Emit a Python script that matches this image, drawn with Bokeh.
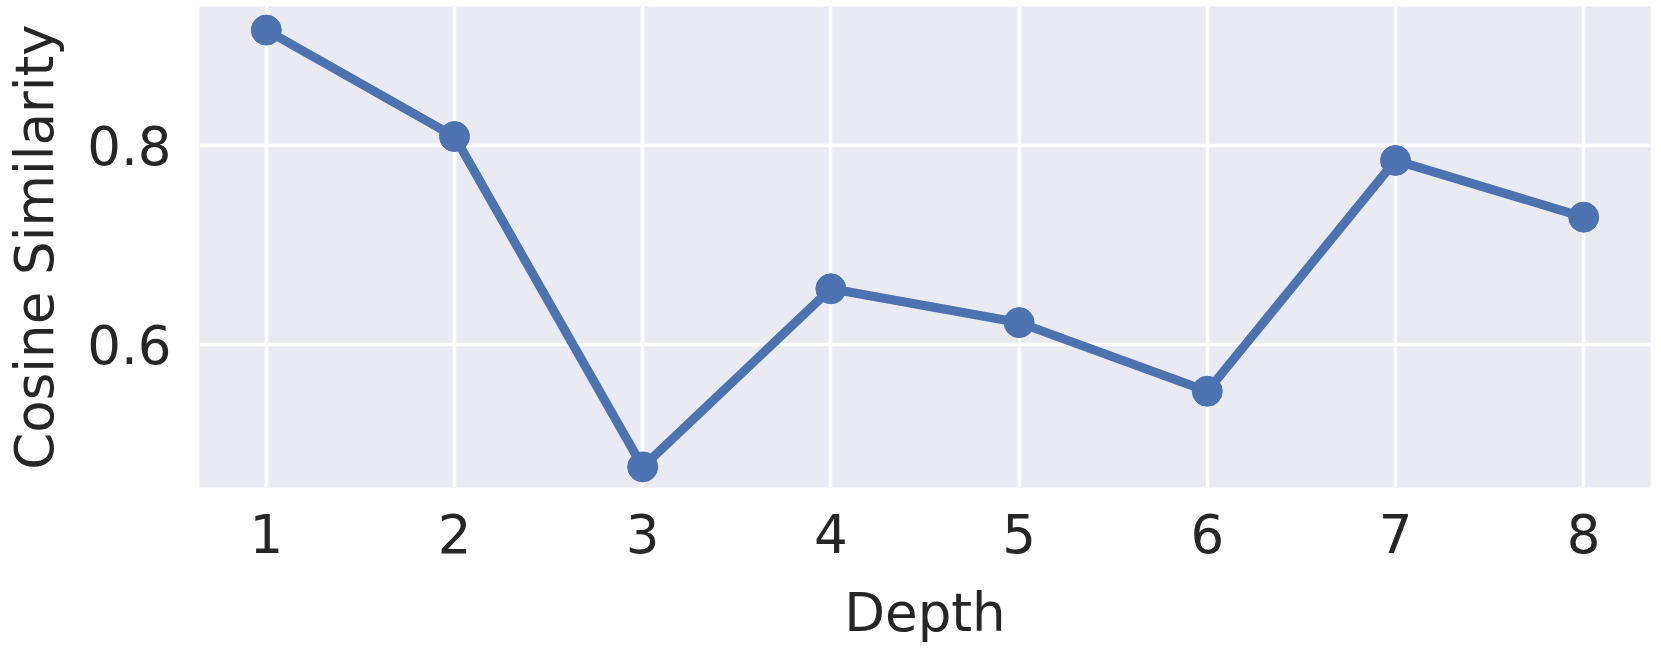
from bokeh.plotting import figure
from bokeh.models import FixedTicker, Range1d
from bokeh.embed import file_html
from bokeh.resources import INLINE

depth = [1, 2, 3, 4, 5, 6, 7, 8]
cosine_similarity = [0.916, 0.809, 0.477, 0.656, 0.622, 0.553, 0.785, 0.728]
x_ticks = [1, 2, 3, 4, 5, 6, 7, 8]
y_ticks = [0.6, 0.8]

BG = "#EAEAF2"
BLUE = "#4C72B0"
TXT = "#262626"
FONT = "DejaVu Sans"

W, H = 1656, 652
p = figure(width=W, height=H, output_backend="svg", toolbar_location=None,
           x_range=Range1d(0.645, 8.355), y_range=Range1d(0.4563, 0.9397),
           min_border_left=199, min_border_right=W - 1650, min_border_top=6,
           min_border_bottom=H - 487)

p.background_fill_color = BG
p.border_fill_color = "white"
p.outline_line_color = None

p.xgrid.grid_line_color = "white"
p.ygrid.grid_line_color = "white"
p.xgrid.grid_line_width = 3.5
p.ygrid.grid_line_width = 3.5

p.xaxis.ticker = FixedTicker(ticks=x_ticks)
p.yaxis.ticker = FixedTicker(ticks=y_ticks)

for ax in (p.xaxis[0], p.yaxis[0]):
    ax.axis_line_color = None
    ax.major_tick_line_color = None
    ax.minor_tick_line_color = None
    ax.major_tick_in = 0
    ax.major_tick_out = 0
    ax.minor_tick_in = 0
    ax.minor_tick_out = 0
    ax.major_label_text_font = FONT
    ax.major_label_text_font_size = "53px"
    ax.major_label_text_color = TXT
    ax.axis_label_text_font = FONT
    ax.axis_label_text_font_size = "53px"
    ax.axis_label_text_color = TXT
    ax.axis_label_text_font_style = "normal"
    ax.axis_label_text_line_height = 1.0

p.xaxis.axis_label = "Depth"
p.yaxis.axis_label = "Cosine Similarity"
p.xaxis.major_label_standoff = 26
p.yaxis.major_label_standoff = 28
p.xaxis.axis_label_standoff = 26
p.yaxis.axis_label_standoff = 19

p.line(depth, cosine_similarity, line_color=BLUE, line_width=9)
p.scatter(depth, cosine_similarity, size=30, fill_color=BLUE, line_color=BLUE)

open("out.html", "w").write(file_html(p, INLINE))
